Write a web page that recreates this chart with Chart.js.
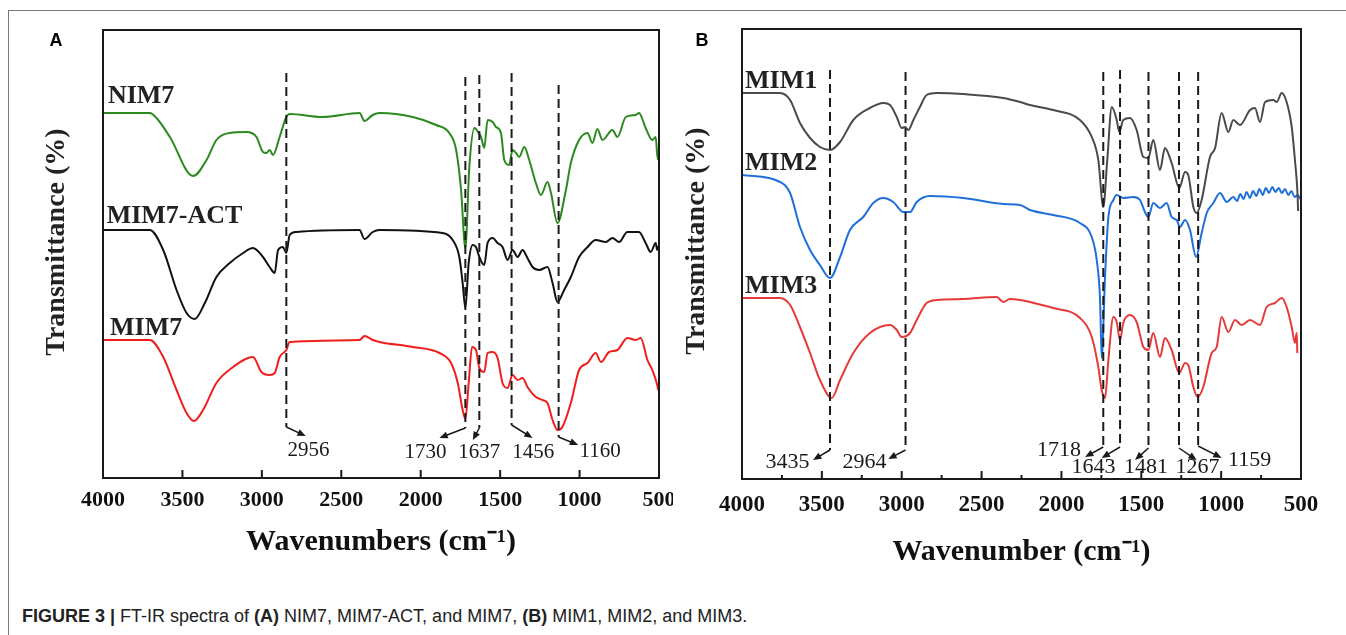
<!DOCTYPE html>
<html>
<head>
<meta charset="utf-8">
<script src="https://cdn.jsdelivr.net/npm/chart.js@4.4.1/dist/chart.umd.min.js"></script>
<style>
  body { margin: 0; background: #fff; width: 1346px; height: 635px; overflow: hidden; position: relative; }
  #frame { position: absolute; left: 8px; top: 10px; width: 1346px; height: 640px;
           border-left: 1.5px solid #7a7a7a; border-top: 1.5px solid #7a7a7a; }
  #panelA { position: absolute; left: 0; top: 0; }
  #panelB { position: absolute; left: 680px; top: 0; }
  #caption { position: absolute; left: 22px; top: 606px; font-family: "Liberation Sans", Arial, sans-serif;
             font-size: 18px; color: #222; white-space: nowrap; }
</style>
</head>
<body>
<div id="frame"></div>
<canvas id="panelA" width="673" height="580"></canvas>
<canvas id="panelB" width="666" height="580"></canvas>
<div id="caption"><b>FIGURE 3 |</b> FT-IR spectra of <b>(A)</b> NIM7, MIM7-ACT, and MIM7, <b>(B)</b> MIM1, MIM2, and MIM3.</div>
<script>
// transmittance is in arbitrary units (curves are stacked), wavenumbers in cm-1

// panel A
const nim7Wn = [4000, 3705, 3663, 3579, 3433, 3348, 3286, 3202, 3097, 3034, 2993, 2971, 2951, 2930, 2888, 2846, 2825, 2618, 2385, 2354, 2302, 2259, 2050, 1903, 1820, 1777, 1746, 1719, 1694, 1662, 1635, 1620, 1600, 1579, 1547, 1526, 1495, 1474, 1443, 1422, 1400, 1380, 1348, 1317, 1275, 1243, 1202, 1180, 1139, 1086, 1055, 1003, 950, 919, 888, 856, 793, 762, 709, 646, 626, 584, 542, 521, 511, 505];
const nim7T = [365, 365, 360, 341, 302, 318, 338, 345, 346, 341, 326, 325, 328, 323, 341, 361, 364, 361, 365, 357, 363, 365, 361, 353, 345, 328, 288, 230, 311, 350, 345, 341, 330, 358, 356, 351, 345, 318, 313, 328, 325, 321, 331, 318, 295, 283, 296, 285, 255, 288, 315, 338, 345, 335, 349, 338, 348, 341, 361, 363, 365, 350, 338, 341, 323, 318];

const actWn = [4000, 3705, 3621, 3537, 3474, 3422, 3359, 3286, 3202, 3118, 3056, 2993, 2951, 2919, 2898, 2867, 2846, 2825, 2783, 2385, 2354, 2302, 2259, 1862, 1799, 1757, 1736, 1719, 1698, 1673, 1652, 1631, 1600, 1579, 1547, 1516, 1485, 1453, 1422, 1390, 1359, 1328, 1296, 1254, 1202, 1170, 1139, 1097, 1055, 1003, 950, 898, 835, 793, 751, 699, 626, 584, 552, 521, 511, 505];
const actT = [248, 248, 228, 188, 165, 159, 175, 201, 215, 225, 230, 221, 211, 205, 228, 231, 225, 243, 246, 248, 239, 246, 248, 245, 238, 221, 195, 170, 215, 233, 231, 221, 213, 235, 240, 235, 231, 218, 228, 221, 228, 220, 211, 208, 211, 195, 176, 188, 201, 221, 231, 238, 236, 240, 236, 246, 246, 235, 226, 235, 228, 232];

const mim7Wn = [4000, 3705, 3621, 3537, 3474, 3428, 3370, 3286, 3181, 3056, 3003, 2951, 2919, 2888, 2846, 2825, 2385, 2354, 2302, 2259, 2050, 1882, 1809, 1767, 1736, 1719, 1698, 1677, 1652, 1631, 1600, 1579, 1547, 1516, 1485, 1453, 1422, 1390, 1359, 1328, 1275, 1233, 1202, 1170, 1139, 1108, 1055, 1003, 950, 898, 866, 814, 762, 699, 646, 615, 573, 542, 511, 505];
const mim7T = [138, 138, 121, 88, 65, 57, 68, 95, 111, 121, 106, 103, 105, 121, 128, 136, 138, 142, 138, 136, 131, 125, 115, 95, 68, 59, 95, 131, 128, 110, 106, 125, 126, 120, 95, 90, 103, 98, 100, 91, 81, 78, 75, 58, 48, 51, 75, 108, 115, 125, 116, 126, 128, 140, 138, 140, 118, 108, 93, 88];

// panel B
const mim1Wn = [4000, 3762, 3699, 3637, 3574, 3512, 3449, 3386, 3303, 3199, 3115, 3073, 3031, 3000, 2979, 2959, 2927, 2886, 2844, 2781, 2614, 2364, 2259, 2197, 2051, 1884, 1810, 1769, 1738, 1713, 1685, 1654, 1638, 1613, 1571, 1529, 1487, 1456, 1425, 1383, 1352, 1310, 1262, 1226, 1206, 1174, 1153, 1122, 1070, 1038, 997, 955, 924, 882, 819, 788, 757, 725, 673, 652, 621, 590, 558, 538, 523, 518];
const mim1T = [386, 386, 379, 356, 341, 332, 329, 337, 359, 371, 376, 374, 362, 351, 352, 349, 359, 372, 384, 386, 385, 381, 377, 374, 369, 359, 342, 319, 272, 319, 372, 359, 347, 359, 361, 349, 322, 321, 339, 309, 331, 316, 291, 307, 304, 272, 266, 279, 322, 331, 366, 347, 359, 354, 369, 371, 357, 377, 379, 377, 386, 377, 352, 319, 289, 268];

const mim2Wn = [4000, 3762, 3699, 3637, 3574, 3512, 3449, 3386, 3324, 3241, 3178, 3115, 3053, 2990, 2948, 2906, 2823, 2614, 2364, 2259, 2197, 2051, 1884, 1810, 1779, 1758, 1748, 1727, 1706, 1675, 1654, 1613, 1550, 1508, 1477, 1456, 1425, 1383, 1341, 1310, 1278, 1258, 1226, 1195, 1157, 1122, 1090, 1049, 1007, 965, 924, 900, 880, 860, 840, 820, 800, 780, 760, 740, 720, 700, 680, 660, 640, 620, 600, 580, 560, 540, 520, 506];
const mim2T = [304, 297, 286, 252, 229, 214, 201, 222, 249, 262, 276, 281, 277, 267, 267, 277, 283, 281, 275, 274, 269, 264, 256, 242, 219, 179, 121, 202, 262, 279, 284, 281, 282, 279, 267, 262, 276, 271, 276, 262, 259, 252, 259, 249, 222, 246, 266, 276, 286, 277, 282, 278, 285, 280, 287, 281, 288, 283, 290, 284, 291, 286, 292, 287, 291, 286, 290, 284, 288, 282, 284, 280];

const mim3Wn = [4000, 3762, 3699, 3637, 3574, 3512, 3438, 3386, 3303, 3199, 3073, 3031, 3000, 2948, 2906, 2844, 2781, 2614, 2405, 2364, 2322, 2259, 2197, 2051, 1884, 1810, 1769, 1748, 1727, 1706, 1675, 1654, 1633, 1613, 1571, 1529, 1487, 1456, 1425, 1383, 1352, 1310, 1262, 1226, 1206, 1174, 1147, 1112, 1059, 1028, 997, 955, 913, 871, 819, 757, 715, 663, 621, 590, 558, 538, 527, 523];
const mim3T = [181, 181, 174, 152, 126, 99, 81, 99, 126, 146, 154, 149, 142, 146, 159, 176, 179, 180, 182, 177, 180, 179, 177, 171, 161, 142, 112, 89, 81, 119, 162, 157, 139, 156, 164, 157, 132, 129, 146, 122, 141, 129, 106, 116, 114, 92, 82, 92, 126, 132, 162, 147, 159, 154, 159, 154, 172, 176, 181, 172, 152, 136, 146, 126];

const tickLabels = ["4000", "3500", "3000", "2500", "2000", "1500", "1000", "500"];

// peak markers: where the dashed line sits, its top/bottom, arrow tip, label
const peaksA = [
  { wn: 2846, top: 405, bottom: 51, tipWn: 2724, tipT: 42, text: "2956", textWn: 2706, textT: 28 },
  { wn: 1719, top: 401, bottom: 50, tipWn: 1882, tipT: 40, text: "1730", textWn: 1970, textT: 26 },
  { wn: 1631, top: 403, bottom: 50, tipWn: 1672, tipT: 38, text: "1637", textWn: 1631, textT: 26 },
  { wn: 1428, top: 405, bottom: 53, tipWn: 1296, tipT: 40, text: "1456", textWn: 1292, textT: 26 },
  { wn: 1132, top: 393, bottom: 41, tipWn: 1009, tipT: 33, text: "1160", textWn: 871, textT: 27 }
];
const peaksB = [
  { wn: 3449, top: 409, bottom: 29, tipWn: 3555, tipT: 19, text: "3435", textWn: 3715, textT: 17 },
  { wn: 2976, top: 407, bottom: 29, tipWn: 3084, tipT: 20, text: "2964", textWn: 3233, textT: 17 },
  { wn: 1738, top: 407, bottom: 32, tipWn: 1852, tipT: 22, text: "1718", textWn: 2015, textT: 29 },
  { wn: 1633, top: 409, bottom: 32, tipWn: 1748, tipT: 21, text: "1643", textWn: 1799, textT: 12 },
  { wn: 1455, top: 407, bottom: 31, tipWn: 1539, tipT: 19, text: "1481", textWn: 1470, textT: 12 },
  { wn: 1264, top: 407, bottom: 31, tipWn: 1153, tipT: 19, text: "1267", textWn: 1148, textT: 12 },
  { wn: 1144, top: 407, bottom: 33, tipWn: 997, tipT: 21, text: "1159", textWn: 822, textT: 19 }
];

const SERIF = "'Liberation Serif', 'Times New Roman', serif";

function points(wn, t) {
  return wn.map((w, i) => ({ x: w, y: t[i] }));
}

function series(label, wn, t, color, labelWn, labelT) {
  return {
    label,
    data: points(wn, t),
    borderColor: color,
    borderWidth: 2,
    pointRadius: 0,
    cubicInterpolationMode: "monotone",
    labelWn,
    labelT
  };
}

function arrow(ctx, x0, y0, x1, y1) {
  const a = Math.atan2(y1 - y0, x1 - x0);
  ctx.beginPath();
  ctx.moveTo(x0, y0);
  ctx.lineTo(x1 - 4 * Math.cos(a), y1 - 4 * Math.sin(a));
  ctx.stroke();
  ctx.beginPath();
  ctx.moveTo(x1, y1);
  ctx.lineTo(x1 - 9 * Math.cos(a - 0.4), y1 - 9 * Math.sin(a - 0.4));
  ctx.lineTo(x1 - 9 * Math.cos(a + 0.4), y1 - 9 * Math.sin(a + 0.4));
  ctx.closePath();
  ctx.fill();
}

const decorations = {
  id: "decorations",
  afterDatasetsDraw(chart, args, opts) {
    const { ctx, chartArea: a, scales: { x, y } } = chart;
    ctx.save();

    // box
    ctx.strokeStyle = "#1a1a1a";
    ctx.lineWidth = 2;
    ctx.strokeRect(a.left, a.top, a.right - a.left, a.bottom - a.top);

    // inward ticks on the wavenumber axis
    for (let w = 500; w <= 4000; w += 250) {
      const major = w % 500 === 0;
      if (!major && !opts.minorTicks) continue;
      const px = x.getPixelForValue(w);
      ctx.beginPath();
      ctx.moveTo(px, a.bottom);
      ctx.lineTo(px, a.bottom - (major ? 8 : 4));
      ctx.stroke();
    }

    // dashed peak lines with arrows and labels
    ctx.fillStyle = "#1a1a1a";
    ctx.font = opts.peakFont + "px " + SERIF;
    ctx.textAlign = "center";
    ctx.textBaseline = "middle";
    opts.peaks.forEach(p => {
      const px = x.getPixelForValue(p.wn);
      ctx.setLineDash([9, 5]);
      ctx.beginPath();
      ctx.moveTo(px, y.getPixelForValue(p.top));
      ctx.lineTo(px, y.getPixelForValue(p.bottom));
      ctx.stroke();
      ctx.setLineDash([]);
      ctx.lineWidth = 1.5;
      arrow(ctx, px, y.getPixelForValue(p.bottom), x.getPixelForValue(p.tipWn), y.getPixelForValue(p.tipT));
      ctx.lineWidth = 2;
      ctx.fillText(p.text, x.getPixelForValue(p.textWn), y.getPixelForValue(p.textT));
    });

    // series names
    ctx.font = "bold 26px " + SERIF;
    ctx.textAlign = "left";
    ctx.textBaseline = "alphabetic";
    ctx.fillStyle = "#222";
    chart.data.datasets.forEach(ds => {
      ctx.fillText(ds.label, x.getPixelForValue(ds.labelWn), y.getPixelForValue(ds.labelT));
    });

    // y title and panel letter
    ctx.font = "bold 28px " + SERIF;
    ctx.textAlign = "center";
    ctx.textBaseline = "middle";
    ctx.translate(opts.yTitleX, opts.yTitleY);
    ctx.rotate(-Math.PI / 2);
    ctx.fillText("Transmittance (%)", 0, 0);
    ctx.setTransform(1, 0, 0, 1, 0, 0);
    ctx.font = "bold 18px 'Liberation Sans', Arial, sans-serif";
    ctx.fillStyle = "#000";
    ctx.fillText(opts.letter, opts.letterX, 41);

    ctx.restore();
  }
};

function makePanel(id, datasets, o) {
  new Chart(document.getElementById(id), {
    type: "line",
    data: { datasets },
    plugins: [decorations],
    options: {
      responsive: false,
      animation: false,
      devicePixelRatio: 1,
      layout: { padding: { left: 0, right: o.padRight, top: o.top, bottom: 0 } },
      plugins: {
        legend: { display: false },
        tooltip: { enabled: false },
        decorations: o.deco
      },
      scales: {
        x: {
          type: "linear",
          reverse: true,
          min: 500,
          max: 4000,
          grid: { display: false, drawTicks: false },
          border: { display: false },
          ticks: {
            stepSize: 500,
            padding: o.tickPad,
            color: "#111",
            font: { family: SERIF, size: o.tickSize, weight: "bold" },
            callback: v => tickLabels[(4000 - v) / 500]
          },
          title: {
            display: true,
            text: o.xTitle,
            color: "#111",
            font: { family: SERIF, size: 30, weight: "bold" },
            padding: { top: 0, bottom: o.xTitlePad }
          },
          afterFit: s => {
            s.height = o.xHeight;
            // let the end labels run past the box (the "500" of panel A is cut off)
            s.paddingLeft = 0;
            s.paddingRight = 0;
          }
        },
        y: {
          min: 0,
          max: o.yMax,
          grid: { display: false },
          border: { display: false },
          ticks: { display: false },
          afterFit: s => { s.width = o.yWidth; }
        }
      }
    }
  });
}

makePanel("panelA", [
  series("NIM7", nim7Wn, nim7T, "#2b8a1f", 3969, 375),
  series("MIM7-ACT", actWn, actT, "#111111", 3977, 255),
  series("MIM7", mim7Wn, mim7T, "#f21d1d", 3956, 143)
], {
  padRight: 14, top: 30, yMax: 448, yWidth: 103, xHeight: 102,
  tickPad: 9, tickSize: 22, xTitle: "Wavenumbers (cm\u207B\u00B9)", xTitlePad: 20,
  deco: { peaks: peaksA, peakFont: 21, minorTicks: false, yTitleX: 57, yTitleY: 242, letter: "A", letterX: 56 }
});

makePanel("panelB", [
  series("MIM1", mim1Wn, mim1T, "#4a4a4a", 3981, 391),
  series("MIM2", mim2Wn, mim2T, "#1f6fd8", 3981, 309),
  series("MIM3", mim3Wn, mim3T, "#e63a3a", 3981, 186)
], {
  padRight: 45, top: 29, yMax: 450, yWidth: 62, xHeight: 101,
  tickPad: 12, tickSize: 23, xTitle: "Wavenumber (cm\u207B\u00B9)", xTitlePad: 10,
  deco: { peaks: peaksB, peakFont: 22, minorTicks: true, yTitleX: 17, yTitleY: 241, letter: "B", letterX: 22 }
});
</script>
</body>
</html>
